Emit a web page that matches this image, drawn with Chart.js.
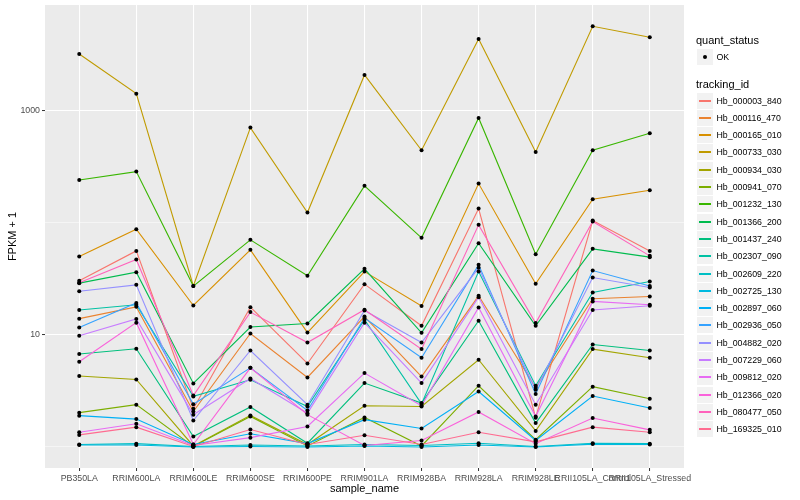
<!DOCTYPE html>
<html><head><meta charset="utf-8">
<script src="https://cdn.jsdelivr.net/npm/chart.js@4"></script>
<style>
html,body{margin:0;padding:0;background:#fff;}
#wrap{position:relative;width:800px;height:500px;font-family:"Liberation Sans",Arial,Helvetica,sans-serif;overflow:hidden;}
#c{position:absolute;left:0;top:0;}
#legend{position:absolute;left:696px;top:0;width:104px;height:500px;}
.ttl{position:absolute;left:0;font-size:11px;color:#000;white-space:nowrap;line-height:13px;}
.row{position:absolute;left:1px;height:17px;width:103px;}
.key{position:absolute;left:0;top:0;width:16px;height:16px;background:#F2F2F2;}
.key i{position:absolute;left:2px;width:12px;top:7px;height:2px;display:block;}
.key b{position:absolute;left:6px;top:6px;width:4px;height:4px;border-radius:50%;background:#000;display:block;}
.lab{position:absolute;left:19.5px;top:0;line-height:16px;font-size:8.8px;color:#000;white-space:nowrap;}
</style>
</head><body>
<div id="wrap"><canvas id="c" width="800" height="500"></canvas><div id="legend"></div></div>
<script>
const samples = ["PB350LA","RRIM600LA","RRIM600LE","RRIM600SE","RRIM600PE","RRIM901LA","RRIM928BA","RRIM928LA","RRIM928LE","RRII105LA_Control","RRII105LA_Stressed"];
const trackingIds = ["Hb_000003_840","Hb_000116_470","Hb_000165_010","Hb_000733_030","Hb_000934_030","Hb_000941_070","Hb_001232_130","Hb_001366_200","Hb_001437_240","Hb_002307_090","Hb_002609_220","Hb_002725_130","Hb_002897_060","Hb_002936_050","Hb_004882_020","Hb_007229_060","Hb_009812_020","Hb_012366_020","Hb_080477_050","Hb_169325_010"];
const seriesColors = ["#F8766D","#EA8331","#D89000","#C09B00","#A3A500","#7CAE00","#39B600","#00BB4E","#00BF7D","#00C1A3","#00BFC4","#00BAE0","#00B0F6","#35A2FF","#9590FF","#C77CFF","#E76BF3","#FA62DB","#FF62BC","#FF6C91"];

// FPKM + 1 values per tracking id, in sample order
const hb_000003_840 = [30.2, 55.8, 2.19, 17.6, 5.54, 28.2, 12.0, 133, 1.82, 104, 55.8];
const hb_000116_470 = [13.9, 17.7, 2.07, 10.25, 4.16, 14.5, 4.24, 22.2, 3.37, 20.9, 21.9];
const hb_000165_010 = [49.7, 87.1, 18.2, 57.0, 10.46, 36.5, 18.0, 222, 28.4, 161, 194];
const hb_000733_030 = [3170, 1406, 27.2, 700, 122.5, 2062, 440, 4315, 425, 5598, 4467];
const hb_000934_030 = [4.28, 3.99, 1.02, 1.91, 1.05, 2.33, 2.29, 5.98, 1.39, 7.44, 6.23];
const hb_000941_070 = [2.02, 2.38, 1.01, 1.87, 1.02, 1.83, 1.02, 3.51, 1.16, 3.44, 2.69];
const hb_001232_130 = [239, 284, 27.1, 70, 33.5, 212, 73, 854, 52.2, 440, 624];
const hb_001366_200 = [28.8, 36.1, 3.68, 11.7, 12.6, 38.6, 10.4, 65.4, 12.0, 58.2, 49.1];
const hb_001437_240 = [6.72, 7.49, 1.24, 2.27, 1.08, 3.71, 2.46, 13.3, 1.63, 8.18, 7.23];
const hb_002307_090 = [16.6, 18.5, 2.82, 3.97, 2.29, 13.6, 2.42, 36.5, 3.51, 23.8, 29.8];
const hb_002609_220 = [1.05, 1.07, 1.01, 1.04, 1.02, 1.05, 1.03, 1.08, 1.01, 1.08, 1.07];
const hb_002725_130 = [1.04, 1.04, 1.00, 1.01, 1.00, 1.02, 1.00, 1.04, 1.00, 1.06, 1.05];
const hb_002897_060 = [1.90, 1.77, 1.05, 1.31, 1.07, 1.75, 1.46, 3.12, 1.14, 2.84, 2.22];
const hb_002936_050 = [11.6, 19.2, 2.40, 5.07, 2.11, 14.1, 6.23, 41.9, 2.96, 37.3, 27.2];
const hb_004882_020 = [24.4, 27.8, 1.72, 7.23, 2.38, 16.4, 8.52, 39.4, 3.23, 32.3, 26.3];
const hb_007229_060 = [9.78, 13.8, 1.94, 4.07, 2.00, 12.8, 3.71, 21.6, 2.38, 16.6, 18.1];
const hb_009812_020 = [1.35, 1.61, 1.03, 1.21, 1.52, 4.55, 2.33, 17.5, 1.87, 19.8, 18.5];
const hb_012366_020 = [5.74, 12.8, 1.05, 5.07, 1.94, 1.03, 1.14, 2.05, 1.07, 1.81, 1.42];
const hb_080477_050 = [29.0, 46.7, 2.87, 15.9, 8.52, 16.7, 7.44, 95.2, 12.7, 102, 50.4];
const hb_169325_010 = [1.28, 1.50, 1.01, 1.43, 1.05, 1.27, 1.05, 1.35, 1.11, 1.50, 1.35];

const seriesValues = [hb_000003_840, hb_000116_470, hb_000165_010, hb_000733_030, hb_000934_030, hb_000941_070, hb_001232_130, hb_001366_200, hb_001437_240, hb_002307_090, hb_002609_220, hb_002725_130, hb_002897_060, hb_002936_050, hb_004882_020, hb_007229_060, hb_009812_020, hb_012366_020, hb_080477_050, hb_169325_010];

const yTickValues = [1, 10, 100, 1000];
const yMajorTicks = [10, 1000];
const yTickLabels = {10: "10", 1000: "1000"};
const yMin = 0.649, yMax = 8664;

const toPoints = vals => vals.map((v, i) => ({x: i, y: v}));

const datasets = [];
datasets.push({
  label: "OK",
  data: seriesValues.flatMap(toPoints),
  showLine: false,
  pointRadius: 2,
  pointHoverRadius: 2,
  pointBackgroundColor: "#000",
  pointBorderWidth: 0,
  borderColor: "#000",
  order: 0
});
seriesValues.forEach((vals, k) => {
  datasets.push({
    label: trackingIds[k],
    data: toPoints(vals),
    borderColor: seriesColors[k],
    borderWidth: 1.1,
    pointRadius: 0,
    tension: 0,
    fill: false,
    order: seriesValues.length - k
  });
});

const panelBg = {
  id: "panelBg",
  beforeDraw(chart) {
    const {ctx, chartArea: a} = chart;
    ctx.save();
    ctx.fillStyle = "#EBEBEB";
    ctx.fillRect(a.left, a.top, a.right - a.left, a.bottom - a.top);
    ctx.restore();
  }
};

const FONT = "'Liberation Sans', Arial, Helvetica, sans-serif";

new Chart(document.getElementById("c"), {
  type: "line",
  data: {datasets},
  plugins: [panelBg],
  options: {
    responsive: false,
    animation: false,
    events: [],
    layout: {padding: {left: 0, right: 116, top: 5, bottom: 0}},
    plugins: {legend: {display: false}, tooltip: {enabled: false}},
    scales: {
      x: {
        type: "linear",
        min: -0.6, max: 10.6,
        bounds: "data",
        afterBuildTicks: s => { s.ticks = samples.map((_, i) => ({value: i})); },
        afterFit: s => { s.height = 32; },
        ticks: {
          autoSkip: false, maxRotation: 0, minRotation: 0,
          padding: 2,
          color: "#4D4D4D",
          font: {family: FONT, size: 8.8},
          callback: v => samples[v]
        },
        grid: {color: "#FFFFFF", lineWidth: 1.07, tickLength: 3, tickColor: "#333333", tickWidth: 1},
        border: {display: false},
        title: {display: true, text: "sample_name", color: "#000", font: {family: FONT, size: 11}, padding: {top: 0, bottom: 4}}
      },
      y: {
        type: "logarithmic",
        min: yMin, max: yMax,
        bounds: "data",
        afterBuildTicks: s => { s.ticks = yTickValues.map(v => ({value: v})); },
        afterFit: s => { s.width = 45; s.paddingTop = 0; s.paddingBottom = 0; },
        ticks: {
          padding: 2,
          color: "#4D4D4D",
          font: {family: FONT, size: 8.8},
          callback: v => yTickLabels[v] || ""
        },
        grid: {
          color: "#FFFFFF",
          lineWidth: c => (c.tick && yMajorTicks.includes(c.tick.value)) ? 1.07 : 0.53,
          tickLength: 3,
          tickColor: c => (c.tick && yMajorTicks.includes(c.tick.value)) ? "#333333" : "rgba(0,0,0,0)",
          tickWidth: 1
        },
        border: {display: false},
        title: {display: true, text: "FPKM + 1", color: "#000", font: {family: FONT, size: 11}, padding: {top: 6, bottom: 0}}
      }
    }
  }
});

const lg = document.getElementById("legend");
function add(html) { lg.insertAdjacentHTML("beforeend", html); }
add('<div class="ttl" style="top:34px">quant_status</div>');
add('<div class="row" style="top:49px"><div class="key"><b></b></div><div class="lab">OK</div></div>');
add('<div class="ttl" style="top:78px">tracking_id</div>');
trackingIds.forEach((id, k) => {
  const top = Math.round(92.5 + k * 17.3);
  add('<div class="row" style="top:' + top + 'px"><div class="key"><i style="background:' + seriesColors[k] + '"></i></div><div class="lab">' + id + '</div></div>');
});
</script>
</body></html>
